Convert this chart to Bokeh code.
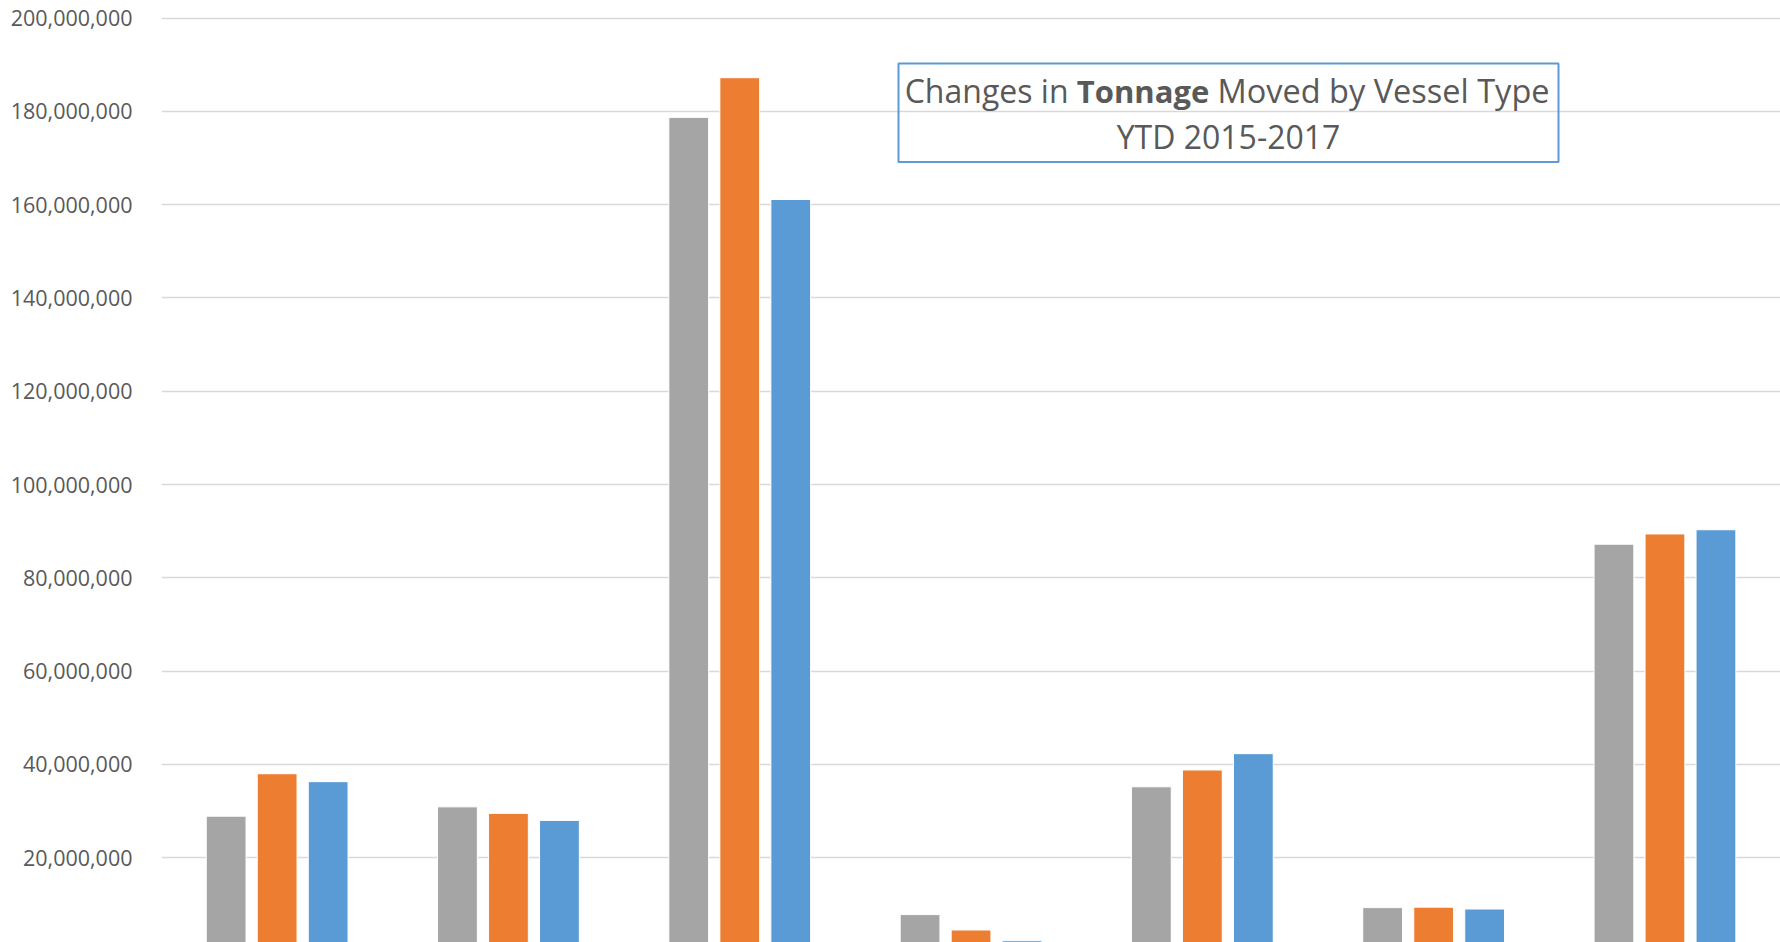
from bokeh.plotting import figure
from bokeh.models import (ColumnDataSource, Range1d, FixedTicker, NumeralTickFormatter,
                          BoxAnnotation, Label)
from bokeh.embed import file_html
from bokeh.resources import INLINE
import numpy as np

# ---- data ----
categories = ["Group 1", "Group 2", "Group 3", "Group 4", "Group 5", "Group 6", "Group 7"]
series_names = ["2015", "2016", "2017"]
values_2015 = [28.9e6, 30.9e6, 178.7e6, 7.8e6, 35.2e6, 9.3e6, 87.2e6]
values_2016 = [38.0e6, 29.5e6, 187.2e6, 4.5e6, 38.8e6, 9.4e6, 89.4e6]
values_2017 = [36.3e6, 28.0e6, 161.1e6, 2.2e6, 42.3e6, 9.0e6, 90.3e6]
series_colors = ["#A5A5A5", "#ED7D31", "#5B9BD5"]
y_ticks = [20e6, 40e6, 60e6, 80e6, 100e6, 120e6, 140e6, 160e6, 180e6, 200e6]

# ---- geometry ----
W, H = 1780, 942
BORDER_L = 161
FRAME_W = W - BORDER_L
CAT_PX = 231.3
X_END = FRAME_W / CAT_PX
PX_PER_UNIT = 4.665 / 1e6
Y_END = 200e6 + 17.5 / PX_PER_UNIT
Y_START = Y_END - H / PX_PER_UNIT

def xd(px):
    return (px - BORDER_L) / CAT_PX

def yd(py):
    return Y_END - py / PX_PER_UNIT

p = figure(width=W, height=H, output_backend="svg", toolbar_location=None,
           x_range=Range1d(0, X_END), y_range=Range1d(Y_START, Y_END),
           x_axis_location=None, min_border_left=BORDER_L, min_border_right=0,
           min_border_top=0, min_border_bottom=0)
p.outline_line_color = None
p.background_fill_color = "white"
p.border_fill_color = "white"

idx = np.arange(len(categories)) + 0.5
offsets = [-0.2205, 0.0, 0.2205]
for vals, off, col, name in zip([values_2015, values_2016, values_2017], offsets,
                                series_colors, series_names):
    src = ColumnDataSource(dict(x=idx + off, top=vals, cat=categories))
    p.vbar(x="x", top="top", bottom=0, width=0.172, source=src,
           fill_color=col, line_color="white", line_width=1)

ax = p.yaxis[0]
ax.ticker = FixedTicker(ticks=y_ticks)
ax.formatter = NumeralTickFormatter(format="0,0")
ax.major_label_text_font = "Open Sans"
ax.major_label_text_font_size = "21.5px"
ax.major_label_text_color = "#595959"
ax.axis_line_color = None
ax.major_tick_line_color = None
ax.minor_tick_line_color = None
ax.major_label_standoff = 23

p.xgrid.grid_line_color = None
p.ygrid.grid_line_color = "#D9D9D9"
p.ygrid.grid_line_width = 1.5

# title box
box = BoxAnnotation(left=xd(898), right=xd(1558), top=yd(63), bottom=yd(161.5),
                    fill_color=None, fill_alpha=0, line_color="#5B9BD5",
                    line_alpha=1.0, line_width=2)
p.add_layout(box)

tc = "#595959"
fs = "32px"
p.add_layout(Label(x=xd(1068), y=yd(90), text="Changes in", text_align="right",
                   text_baseline="middle", text_font="Open Sans", text_font_size=fs,
                   text_color=tc))
p.add_layout(Label(x=xd(1142.5), y=yd(90), text="Tonnage", text_align="center",
                   text_baseline="middle", text_font="Open Sans", text_font_size="31px",
                   text_font_style="bold", text_color=tc))
p.add_layout(Label(x=xd(1217), y=yd(90), text="Moved by Vessel Type", text_align="left",
                   text_baseline="middle", text_font="Open Sans", text_font_size="32.5px",
                   text_color=tc))
p.add_layout(Label(x=xd(1228), y=yd(136), text="YTD 2015-2017", text_align="center",
                   text_baseline="middle", text_font="Open Sans", text_font_size=fs,
                   text_color=tc))

open("out.html", "w").write(file_html(p, INLINE))
